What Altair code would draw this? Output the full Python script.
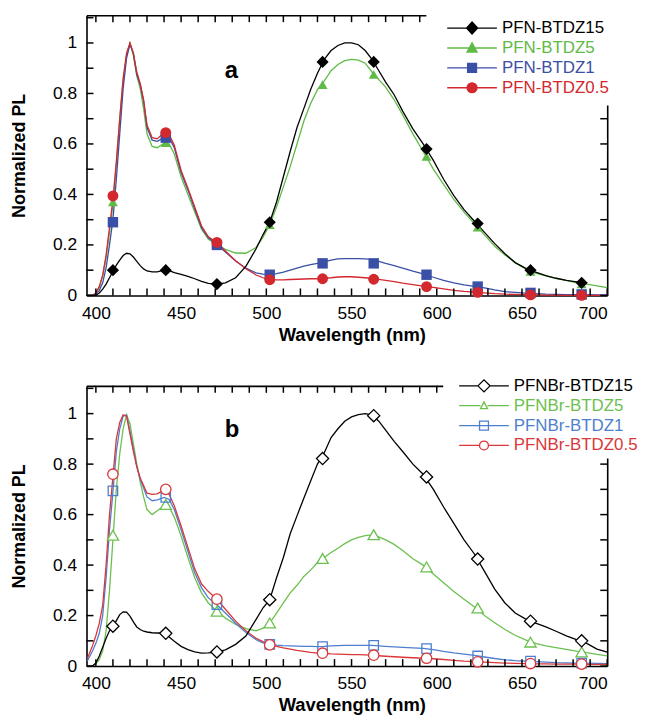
import altair as alt
import pandas as pd

# ---------------- data ----------------
WL = [395, 398, 400, 402, 404, 406, 408, 410, 412, 414,
      416, 418, 420, 422, 424, 426, 428, 430, 433, 436,
      440, 443, 446, 450, 454, 458, 462, 466, 471, 476,
      482, 488, 494, 498, 502, 506, 510, 514, 518, 522,
      526, 530, 534, 538, 542, 546, 550, 554, 558, 562,
      566, 570, 575, 580, 586, 592, 598, 604, 610, 616,
      622, 628, 634, 640, 646, 652, 658, 664, 670, 676,
      682, 688, 694, 700]

SERIES_A = ["PFN-BTDZ15", "PFN-BTDZ5", "PFN-BTDZ1", "PFN-BTDZ0.5"]
SERIES_B = ["PFNBr-BTDZ15", "PFNBr-BTDZ5", "PFNBr-BTDZ1", "PFNBr-BTDZ0.5"]

A15 = [0.0, 0.0, 0.0, 0.01, 0.025, 0.045, 0.07, 0.095, 0.12, 0.14,
       0.158, 0.167, 0.165, 0.152, 0.135, 0.118, 0.105, 0.097, 0.093, 0.093,
       0.1, 0.098, 0.09, 0.083, 0.075, 0.066, 0.056, 0.048, 0.045, 0.05,
       0.07, 0.115, 0.185, 0.24, 0.29, 0.37, 0.47, 0.57, 0.665, 0.74,
       0.816, 0.88, 0.935, 0.97, 0.99, 1.0, 1.0, 0.993, 0.97, 0.935,
       0.89, 0.845, 0.795, 0.73, 0.66, 0.6, 0.535, 0.46, 0.395, 0.34,
       0.295, 0.25, 0.205, 0.165, 0.13, 0.108, 0.092, 0.078, 0.068, 0.06,
       0.054, 0.048, None, None]
A5 = [0.0, 0.0, 0.01, 0.033, 0.078, 0.15, 0.25, 0.36, 0.52, 0.7,
      0.85, 0.95, 1.0, 0.95, 0.87, 0.82, 0.74, 0.64, 0.59, 0.585,
      0.603, 0.6, 0.56, 0.47, 0.4, 0.33, 0.262, 0.222, 0.203, 0.182,
      0.168, 0.167, 0.19, 0.23, 0.28, 0.35, 0.43, 0.51, 0.6, 0.69,
      0.76, 0.815, 0.85, 0.89, 0.915, 0.93, 0.935, 0.932, 0.92, 0.885,
      0.855, 0.825, 0.775, 0.715, 0.64, 0.57, 0.5, 0.44, 0.38, 0.33,
      0.285, 0.24, 0.195, 0.16, 0.13, 0.105, 0.088, 0.077, 0.068, 0.06,
      0.05, 0.045, 0.038, 0.031]
A1 = [0.0, 0.0, 0.005, 0.02, 0.05, 0.11, 0.2, 0.3, 0.46, 0.64,
      0.82, 0.94, 0.995, 0.96, 0.875, 0.835, 0.77, 0.665, 0.615, 0.61,
      0.625, 0.625, 0.585, 0.487, 0.418, 0.342, 0.268, 0.228, 0.202, 0.172,
      0.136, 0.108, 0.089, 0.084, 0.082, 0.086, 0.092, 0.1, 0.108, 0.116,
      0.122, 0.127, 0.133, 0.14, 0.145, 0.146, 0.146, 0.146, 0.145, 0.142,
      0.135, 0.127, 0.118, 0.108, 0.096, 0.085, 0.072, 0.06, 0.05, 0.042,
      0.036, 0.03, 0.022, 0.015, 0.012, 0.009, 0.007, 0.005, 0.004, 0.003,
      0.003, 0.003, 0.002, 0.002]
A05 = [0.0, 0.0, 0.01, 0.035, 0.08, 0.16, 0.27, 0.38, 0.53, 0.7,
       0.86, 0.96, 1.0, 0.96, 0.885, 0.84, 0.775, 0.675, 0.625, 0.62,
       0.645, 0.637, 0.595, 0.495, 0.425, 0.35, 0.275, 0.232, 0.21, 0.176,
       0.137, 0.106, 0.081, 0.07, 0.063, 0.062, 0.062, 0.063, 0.064, 0.065,
       0.066, 0.066, 0.068, 0.07, 0.073, 0.074, 0.074, 0.072, 0.07, 0.067,
       0.064, 0.06, 0.055, 0.049, 0.043, 0.037, 0.032, 0.026, 0.02, 0.016,
       0.013, 0.01, 0.007, 0.005, 0.004, 0.003, 0.002, 0.001, 0.001, 0.0,
       0.0, 0.0, 0.0, 0.0]

B15 = [0.0, 0.0, 0.012, 0.04, 0.075, 0.11, 0.14, 0.155, 0.18, 0.204,
       0.215, 0.214, 0.198, 0.175, 0.155, 0.145, 0.138, 0.135, 0.132, 0.131,
       0.13, 0.115, 0.098, 0.078, 0.065, 0.056, 0.051, 0.052, 0.056, 0.064,
       0.086, 0.119, 0.185, 0.23, 0.263, 0.35, 0.43, 0.524, 0.595, 0.665,
       0.733, 0.8, 0.845, 0.905, 0.94, 0.97, 0.987, 0.996, 1.0, 0.995,
       0.97, 0.935, 0.89, 0.85, 0.8, 0.76, 0.7, 0.63, 0.565, 0.5,
       0.445, 0.375, 0.305, 0.25, 0.21, 0.187, 0.17, 0.155, 0.138, 0.12,
       0.105, 0.09, 0.067, 0.055]
B5 = [0.0, 0.0, 0.01, 0.025, 0.06, 0.14, 0.3, 0.5, 0.7, 0.84,
      0.94, 0.995, 0.96, 0.88, 0.8, 0.73, 0.67, 0.62, 0.6, 0.615,
      0.635, 0.63, 0.59, 0.515, 0.43, 0.35, 0.29, 0.25, 0.217, 0.19,
      0.165, 0.148, 0.14, 0.15, 0.17, 0.21, 0.25, 0.29, 0.32, 0.355,
      0.38, 0.41, 0.43, 0.45, 0.467, 0.485, 0.5, 0.51, 0.517, 0.52,
      0.512, 0.5, 0.482, 0.458, 0.425, 0.4, 0.365, 0.33, 0.295, 0.265,
      0.235, 0.2, 0.172, 0.145, 0.122, 0.104, 0.09, 0.08, 0.073, 0.066,
      0.059, 0.053, 0.046, 0.04]
B1 = [0.02, 0.06, 0.09, 0.13, 0.2, 0.35, 0.54, 0.69, 0.85, 0.94,
      0.99, 0.995, 0.93, 0.86, 0.79, 0.74, 0.705, 0.67, 0.655, 0.658,
      0.668, 0.66, 0.62, 0.54, 0.455, 0.37, 0.31, 0.27, 0.243, 0.21,
      0.17, 0.133, 0.105, 0.092, 0.086, 0.083, 0.081, 0.08, 0.079, 0.078,
      0.078, 0.077, 0.078, 0.08, 0.081, 0.082, 0.082, 0.082, 0.082, 0.082,
      0.08, 0.078, 0.076, 0.074, 0.072, 0.07, 0.065, 0.058, 0.052, 0.047,
      0.042, 0.036, 0.03, 0.025, 0.022, 0.02, 0.018, 0.016, 0.014, 0.013,
      0.012, 0.012, 0.011, 0.01]
B05 = [0.03, 0.08, 0.12, 0.17, 0.24, 0.4, 0.6, 0.75, 0.9, 0.965,
       0.995, 0.99, 0.92, 0.85, 0.79, 0.745, 0.715, 0.685, 0.68, 0.682,
       0.698, 0.68, 0.635, 0.555, 0.47, 0.385, 0.325, 0.295, 0.265, 0.225,
       0.178, 0.14, 0.11, 0.097, 0.085, 0.078, 0.072, 0.067, 0.062, 0.058,
       0.054, 0.051, 0.05, 0.048, 0.047, 0.046, 0.045, 0.045, 0.044, 0.043,
       0.041, 0.039, 0.037, 0.035, 0.033, 0.031, 0.029, 0.026, 0.023, 0.02,
       0.018, 0.016, 0.014, 0.012, 0.011, 0.01, 0.009, 0.009, 0.008, 0.008,
       0.008, 0.007, 0.007, 0.007]

# marker positions and values
MK_WL = [410, 441, 471, 502, 533, 563, 594, 624, 655, 685]
MA15 = [0.10, 0.10, 0.045, 0.29, 0.925, 0.925, 0.58, 0.285, 0.10, 0.05]
MA5 = [0.37, 0.605, 0.205, 0.28, 0.835, 0.875, 0.55, 0.27, 0.095, 0.045]
MA1 = [0.29, 0.625, 0.20, 0.082, 0.127, 0.127, 0.082, 0.035, 0.01, 0.004]
MA05 = [0.394, 0.645, 0.21, 0.062, 0.066, 0.064, 0.035, 0.012, 0.002, 0.0]
MB15 = [0.158, 0.13, 0.056, 0.263, 0.822, 0.992, 0.749, 0.424, 0.178, 0.10]
MB5 = [0.518, 0.64, 0.217, 0.171, 0.426, 0.52, 0.393, 0.23, 0.095, 0.056]
MB1 = [0.694, 0.668, 0.243, 0.086, 0.077, 0.082, 0.069, 0.04, 0.02, 0.012]
MB05 = [0.76, 0.70, 0.265, 0.084, 0.051, 0.043, 0.031, 0.017, 0.01, 0.008]

X_TICKS = list(range(400, 701, 10))
Y_TICKS = [round(i * 0.1, 1) for i in range(12)]
X_RANGE = [394.5, 700]
Y_RANGE = [0, 1.11]

# ---------------- styles ----------------
COLORS_A = ["#000000", "#5fba46", "#3a4fa6", "#d3282e"]
COLORS_B = ["#000000", "#6cc04f", "#4d7fcf", "#d9373a"]
SHAPES = ["diamond", "triangle-up", "square", "circle"]
SIZES_A = [150, 100, 110, 120]
SIZES_B = [150, 130, 90, 110]
MARKER_FILL_B = ["white", "white", "transparent", "white"]
FONT = "Liberation Sans"
W, H = 524, 282

for arr in (A15, A5, A1, A05, B15, B5, B1, B05):
    assert len(arr) == len(WL)


def long_df(names, arrays, xs):
    rows = []
    for name, arr in zip(names, arrays):
        for x, v in zip(xs, arr):
            if v is not None:
                rows.append({"wl": x, "v": v, "series": name})
    return pd.DataFrame(rows)


def f(v):
    return f"{v:.4f}".rstrip("0").rstrip(".")


# legend symbol paths (unit coords, scaled by sqrt(size)/2 = 32 px)
M = 0.156
L0, L1 = -0.625, 0.9375


def p_diamond(rx, ry):
    return f"M{f(M-rx)},0L{f(M)},{f(-ry)}L{f(M+rx)},0L{f(M)},{f(ry)}Z"


def p_tri(r, top, bot):
    return f"M{f(M)},{f(-top)}L{f(M+r)},{f(bot)}L{f(M-r)},{f(bot)}Z"


def p_square(h):
    return f"M{f(M-h)},{f(-h)}H{f(M+h)}V{f(h)}H{f(M-h)}Z"


def p_circle(r):
    return (f"M{f(M-r)},0A{f(r)},{f(r)} 0 1,0 {f(M+r)},0"
            f"A{f(r)},{f(r)} 0 1,0 {f(M-r)},0Z")


def line_full():
    return f"M{f(L0)},0H{f(L1)}"


def line_gap(a):
    return f"M{f(L0)},0H{f(M-a)}M{f(M+a)},0H{f(L1)}"


PATHS_A = [
    line_full() + p_diamond(0.175, 0.19),
    line_full() + p_tri(0.16, 0.165, 0.13),
    line_full() + p_square(0.14),
    line_full() + p_circle(0.156),
]
PATHS_B = [
    line_gap(0.19) + p_diamond(0.19, 0.19),
    line_gap(0.11) + p_tri(0.11, 0.12, 0.09),
    line_full() + p_square(0.14),
    line_gap(0.14) + p_circle(0.14),
]

# inward tick glyphs (unit coords, scaled by sqrt(size)/2 = 7 px)
TICK_SHAPE = {"bottom": "M0,0L0,-1", "top": "M0,0L0,1",
              "left": "M0,0L1,0", "right": "M0,0L-1,0"}

COMMON = dict(domainColor="black", domainWidth=1.6, ticks=False, grid=False)


def x_axes():
    label_axis = alt.Axis(orient="bottom", values=X_TICKS,
                          labelExpr="datum.value % 50 === 0 ? datum.label : ''",
                          labelPadding=9, labelFont=FONT,
                          labelFontSize=17.5, labelColor="black",
                          title="Wavelength (nm)", titleFont=FONT,
                          titleFontSize=18.5, titleFontWeight="bold",
                          titleColor="black", titleY=30, titleX=267,
                          titleBaseline="top", **COMMON)
    # frame line along the top edge (a bottom-oriented axis moved up)
    top_frame = alt.Axis(orient="bottom", offset=-H, values=X_TICKS,
                         labels=False, title="", **COMMON)
    return [label_axis, top_frame]


def y_axes():
    label_axis = alt.Axis(orient="left", values=Y_TICKS,
                          labelExpr="round(datum.value*10) % 2 === 0 ? format(datum.value, '~g') : ''",
                          labelPadding=10, labelFont=FONT,
                          labelFontSize=17.5, labelColor="black",
                          title="Normalized PL", titleFont=FONT,
                          titleFontSize=18, titleFontWeight="bold",
                          titleColor="black", titleX=-67,
                          titleBaseline="middle", **COMMON)
    right_frame = alt.Axis(orient="left", offset=-W, values=Y_TICKS,
                           labels=False, title="", **COMMON)
    return [label_axis, right_frame]


# tick tables: tick values paired with the edge they sit on
X_TICK_DF = pd.DataFrame({
    "wl": X_TICKS * 2,
    "v": [Y_RANGE[0]] * len(X_TICKS) + [Y_RANGE[1]] * len(X_TICKS),
    "edge": ["bottom"] * len(X_TICKS) + ["top"] * len(X_TICKS),
})
Y_TICK_DF = pd.DataFrame({
    "v": Y_TICKS * 2,
    "wl": [X_RANGE[0]] * len(Y_TICKS) + [X_RANGE[1]] * len(Y_TICKS),
    "edge": ["left"] * len(Y_TICKS) + ["right"] * len(Y_TICKS),
})


def tick_layers(xs, ys):
    """Inward ticks on the four sides: short stroked glyphs placed by the scales."""
    out = []
    for df, edges in ((X_TICK_DF, ("bottom", "top")), (Y_TICK_DF, ("left", "right"))):
        for edge in edges:
            out.append(
                alt.Chart(df)
                .transform_filter(alt.datum.edge == edge)
                .mark_point(shape=TICK_SHAPE[edge], size=196, filled=False,
                            stroke="black", strokeWidth=1.5, opacity=1)
                .encode(x=alt.X("wl:Q", scale=xs, axis=None),
                        y=alt.Y("v:Q", scale=ys, axis=None))
            )
    return out


def panel(names, colors, lines, markers, filled, sizes, paths, legend_fill,
          leg_x, leg_y, leg_pad, letter, letter_dy):
    line_df = long_df(names, lines, WL)
    mk_df = long_df(names, markers, MK_WL)
    xs = alt.Scale(domain=X_RANGE, nice=False, zero=False)
    ys = alt.Scale(domain=Y_RANGE, nice=False, zero=False)
    xa = x_axes()
    ya = y_axes()

    layers = []
    order = [1, 2, 3, 0]
    for k, i in enumerate(order):
        layers.append(
            alt.Chart(line_df)
            .transform_filter(alt.datum.series == names[i])
            .mark_line(color=colors[i], strokeWidth=1.3)
            .encode(x=alt.X("wl:Q", scale=xs, axis=xa[k] if k < 2 else None),
                    y=alt.Y("v:Q", scale=ys, axis=ya[k] if k < 2 else None),
                    order="wl:Q")
        )
    for k, i in enumerate(order):
        if filled:
            mk = alt.Chart(mk_df).mark_point(shape=SHAPES[i], filled=True,
                                             color=colors[i], size=sizes[i],
                                             opacity=1)
        else:
            mk = alt.Chart(mk_df).mark_point(shape=SHAPES[i], filled=False,
                                             stroke=colors[i],
                                             fill=MARKER_FILL_B[i],
                                             strokeWidth=1.3, size=sizes[i],
                                             opacity=1)
        layers.append(
            mk.transform_filter(alt.datum.series == names[i])
            .encode(x=alt.X("wl:Q", scale=xs, axis=None),
                    y=alt.Y("v:Q", scale=ys, axis=None))
        )
    layers += tick_layers(xs, ys)

    color_expr = " : ".join(
        f"datum.value === '{n}' ? '{c}'" for n, c in zip(names, colors)
    ) + " : 'black'"
    leg = alt.Legend(title=None, orient="none", legendX=leg_x, legendY=leg_y,
                     padding=leg_pad, fillColor="white", symbolSize=4096,
                     symbolStrokeWidth=1.3, clipHeight=20, rowPadding=0,
                     labelOffset=2, labelFont=FONT, labelFontSize=17,
                     labelLimit=400, symbolOpacity=1,
                     labelColor=alt.ExprRef(expr=color_expr))
    legend_layer = (
        alt.Chart(mk_df)
        .transform_filter("datum.v < 0")
        .mark_point(filled=filled, strokeWidth=1.3)
        .encode(
            x=alt.X("wl:Q", scale=xs, axis=None),
            y=alt.Y("v:Q", scale=ys, axis=None),
            fill=alt.Fill("series:N", scale=alt.Scale(domain=names, range=legend_fill), legend=leg),
            stroke=alt.Stroke("series:N", scale=alt.Scale(domain=names, range=colors), legend=leg),
            shape=alt.Shape("series:N", scale=alt.Scale(domain=names, range=paths), legend=leg),
        )
    )
    layers.append(legend_layer)

    return (
        alt.layer(*layers)
        .resolve_axis(x="independent", y="independent")
        .properties(
            width=W, height=H,
            title=alt.TitleParams(text=letter, anchor="start", frame="group",
                                  dx=139, dy=letter_dy, offset=0,
                                  font=FONT, fontSize=24, fontWeight="bold",
                                  baseline="alphabetic", color="black"),
        )
    )


panel_a = panel(SERIES_A, COLORS_A, [A15, A5, A1, A05], [MA15, MA5, MA1, MA05],
                True, SIZES_A, PATHS_A, COLORS_A,
                342, -5, 8, "a", 92)
panel_b = panel(SERIES_B, COLORS_B, [B15, B5, B1, B05], [MB15, MB5, MB1, MB05],
                False, SIZES_B, PATHS_B, MARKER_FILL_B,
                359, -13, 3, "b", 88)

chart = (
    alt.vconcat(panel_a, panel_b, spacing=29)
    .resolve_scale(fill="independent", stroke="independent", shape="independent",
                   color="independent")
    .resolve_legend(fill="independent", stroke="independent", shape="independent")
    .properties(padding={"left": 3, "top": 0, "right": 0, "bottom": 0},
                background="white")
    .configure_view(strokeWidth=0)
)

chart.save("out.html", embed_options={"renderer": "svg", "actions": False})
